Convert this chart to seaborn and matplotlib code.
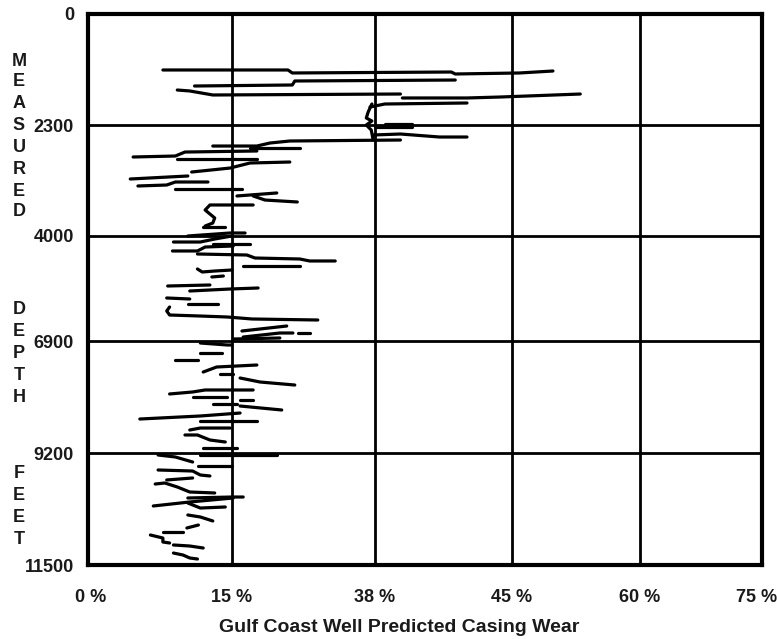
import numpy as np
import pandas as pd
import matplotlib
matplotlib.use("Agg")
import matplotlib.pyplot as plt
import matplotlib.transforms as mtransforms
import seaborn as sns

# ---- axis definitions -------------------------------------------------
x_ticks = [0, 15, 38, 45, 60, 75]
x_tick_labels = ["0 %", "15 %", "38 %", "45 %", "60 %", "75 %"]
y_ticks = [0, 2300, 4000, 6900, 9200, 11500]
y_tick_labels = ["0", "2300", "4000", "6900", "9200", "11500"]
# relative spacing of the printed gridlines (the chart is not linear)
x_grid_spacing = [0, 144, 287, 424, 552, 674]
y_grid_spacing = [0, 111, 222, 327, 439, 551]

# ---- traced wear curves: one inner list per stroke --------------------
depth_ft = [
    [1160, 1160, 1222, 1202, 1243, 1222, 1181],
    [1492, 1471, 1388, 1368],
    [1575, 1595, 1678, 1658],
    [1740, 1740, 1720, 1658],
    [1927, 1865, 1844],
    [1865, 2031, 2155, 2217, 2300, 2377, 2530],
    [2279, 2279],
    [2331, 2331],
    [2453, 2438, 2484, 2484],
    [2622, 2622, 2576, 2545, 2530],
    [2652, 2652],
    [2790, 2775, 2714, 2698],
    [2821, 2821],
    [3020, 2959, 2882, 2867],
    [3127, 3081],
    [3234, 3219, 3173, 3173],
    [3280, 3280],
    [3387, 3341],
    [3387, 3449, 3479],
    [3525, 3525, 3602, 3724, 3801, 3847],
    [3862, 3862],
    [4000, 3954, 3954],
    [4166, 4166, 4083, 4000],
    [4221, 4221],
    [4414, 4414, 4304, 4276],
    [4497, 4525, 4608, 4635, 4690, 4690],
    [4829, 4829],
    [4911, 4994, 4967, 4939],
    [5132, 5105],
    [5381, 5353],
    [5519, 5464, 5436],
    [5712, 5740],
    [5878, 5878],
    [5961, 6071, 6182, 6210, 6237, 6292, 6320],
    [6624, 6486],
    [6790, 6679, 6679],
    [6679, 6679],
    [6845, 6817],
    [6941, 6982, 6982],
    [7146, 7146],
    [7290, 7290],
    [7537, 7434, 7393],
    [7578, 7578],
    [7660, 7742, 7804],
    [7988, 7947, 7906, 7906],
    [8050, 8050],
    [8112, 8112],
    [8194, 8194],
    [8235, 8317],
    [8502, 8440, 8379],
    [8543, 8543],
    [8728, 8687, 8687],
    [8830, 8830, 8933, 8974],
    [9097, 9097],
    [9241, 9241],
    [9241, 9282, 9385],
    [9467, 9467],
    [9549, 9570, 9652, 9672],
    [9754, 9713],
    [9837, 9816, 9898, 10001, 10021],
    [10124, 10104, 10104],
    [10288, 10206, 10124],
    [10227, 10330, 10309],
    [10473, 10514, 10596],
    [10740, 10679],
    [10822, 10822],
    [10884, 10946, 11028, 11048],
    [11089, 11110, 11151],
    [11254, 11295, 11356, 11377],
]
wear_pct = [
    [7.8, 24.0, 24.7, 41.9, 42.1, 45.9, 49.8],
    [11.1, 24.7, 25.1, 42.1],
    [9.3, 10.6, 13.0, 39.3],
    [39.4, 42.7, 44.4, 53.0],
    [37.2, 38.5, 42.7],
    [37.5, 36.9, 36.6, 37.5, 36.6, 37.4, 37.7],
    [38.5, 39.9],
    [38.0, 39.9],
    [37.7, 39.3, 41.3, 42.7],
    [13.0, 19.0, 21.1, 24.3, 39.3],
    [17.9, 25.9],
    [4.7, 9.1, 10.1, 19.0],
    [9.3, 19.0],
    [10.8, 14.8, 17.9, 24.3],
    [4.4, 10.4],
    [5.2, 8.2, 9.1, 12.5],
    [9.1, 16.6],
    [15.8, 22.2],
    [18.4, 20.3, 25.5],
    [18.4, 12.7, 12.2, 13.2, 13.0, 12.2],
    [12.0, 14.3],
    [10.4, 14.8, 17.1],
    [8.9, 11.7, 13.2, 15.0],
    [13.0, 17.9],
    [8.8, 11.4, 12.2, 15.2],
    [11.4, 17.4, 18.7, 25.9, 27.5, 31.6],
    [16.8, 25.9],
    [11.4, 11.9, 13.2, 15.0],
    [12.9, 14.1],
    [8.3, 12.7],
    [10.6, 14.8, 19.2],
    [8.2, 10.6],
    [10.4, 13.5],
    [8.5, 8.2, 8.5, 11.7, 14.5, 18.2, 28.8],
    [16.6, 23.8],
    [16.8, 22.7, 24.8],
    [25.6, 27.5],
    [15.2, 22.7],
    [11.7, 14.5, 15.0],
    [11.7, 14.0],
    [9.1, 11.5],
    [12.0, 13.4, 19.0],
    [13.8, 15.2],
    [16.3, 19.5, 25.1],
    [8.5, 10.9, 12.2, 18.4],
    [10.9, 14.5],
    [16.3, 18.4],
    [13.0, 15.8],
    [16.3, 23.0],
    [5.4, 11.7, 16.3],
    [11.7, 19.0],
    [10.6, 11.7, 14.8],
    [10.1, 11.4, 12.7, 14.3],
    [12.0, 15.8],
    [11.7, 22.2],
    [7.3, 9.1, 10.9],
    [11.5, 15.0],
    [7.3, 10.9, 11.7, 12.7],
    [8.2, 10.9],
    [7.0, 8.0, 9.3, 10.6, 13.2],
    [10.4, 15.0, 16.8],
    [6.8, 10.6, 15.2],
    [10.4, 11.7, 14.3],
    [10.4, 11.7, 13.0],
    [10.3, 11.5],
    [7.8, 9.9],
    [6.5, 7.8, 7.8, 8.5],
    [8.9, 10.6, 12.0],
    [8.9, 9.9, 10.6, 11.4],
]

rows = []
for i, (ds, ws) in enumerate(zip(depth_ft, wear_pct)):
    for d, w in zip(ds, ws):
        rows.append((i, d, w))
df = pd.DataFrame(rows, columns=["trace", "depth", "wear"])

# ---- figure -------------------------------------------------------------
sns.set_style("white")
plt.rcParams["font.family"] = ["Liberation Sans", "DejaVu Sans"]
plt.rcParams["font.weight"] = "bold"

W, H = 777, 639
fig = plt.figure(figsize=(W / 100, H / 100), dpi=100)
ax = fig.add_axes([88 / W, 1 - 565 / H, (762 - 88) / W, (565 - 14) / H])


def fx(v):
    return np.interp(v, x_ticks, x_grid_spacing)


def ix(v):
    return np.interp(v, x_grid_spacing, x_ticks)


def fy(v):
    return np.interp(v, y_ticks, y_grid_spacing)


def iy(v):
    return np.interp(v, y_grid_spacing, y_ticks)


ax.set_xscale("function", functions=(fx, ix))
ax.set_yscale("function", functions=(fy, iy))
ax.set_xlim(0, 75)
ax.set_ylim(11500, 0)

sns.lineplot(data=df, x="wear", y="depth", units="trace", estimator=None,
             sort=False, color="black", linewidth=2.3,
             solid_capstyle="round", solid_joinstyle="round",
             legend=False, ax=ax)

ax.set_xlim(0, 75)
ax.set_ylim(11500, 0)
ax.set_xticks(x_ticks)
ax.set_xticklabels(x_tick_labels)
ax.set_yticks(y_ticks)
ax.set_yticklabels(y_tick_labels)
ax.tick_params(axis="both", length=0, labelsize=13, colors="#1a1a1a")
ax.tick_params(axis="x", pad=17)
ax.tick_params(axis="y", pad=10)
for lab in ax.get_xticklabels() + ax.get_yticklabels():
    lab.set_fontweight("bold")
# keep the right-most percentage label inside the picture
xlabs = ax.get_xticklabels()
xlabs[-1].set_transform(xlabs[-1].get_transform() +
                        mtransforms.ScaledTranslation(-0.05, 0, fig.dpi_scale_trans))
xlabs[0].set_transform(xlabs[0].get_transform() +
                       mtransforms.ScaledTranslation(0.03, 0, fig.dpi_scale_trans))

ax.grid(True, color="black", linewidth=2.0)
ax.set_axisbelow(True)
for sp in ax.spines.values():
    sp.set_visible(True)
    sp.set_color("black")
    sp.set_linewidth(3.0)

ax.set_ylabel("")
ax.set_xlabel("Gulf Coast Well Predicted Casing Wear", fontsize=14,
              fontweight="bold", color="#1a1a1a")
ax.xaxis.set_label_coords((399 - 88) / 674, (565 - 628) / 551)
ax.xaxis.label.set_va("center")
ax.xaxis.label.set_ha("center")

# vertically stacked axis title letters
letter_rows = [("M", 61), ("E", 82), ("A", 104), ("S", 126), ("U", 147),
               ("R", 169), ("E", 191), ("D", 212),
               ("D", 309), ("E", 331), ("P", 353), ("T", 375), ("H", 397),
               ("F", 473), ("E", 495), ("E", 517), ("T", 540)]
for ch, py in letter_rows:
    fig.text(19 / W, 1 - py / H, ch, ha="center", va="center",
             fontsize=13, fontweight="bold", color="#1a1a1a")

fig.savefig("out.png", dpi=100)
